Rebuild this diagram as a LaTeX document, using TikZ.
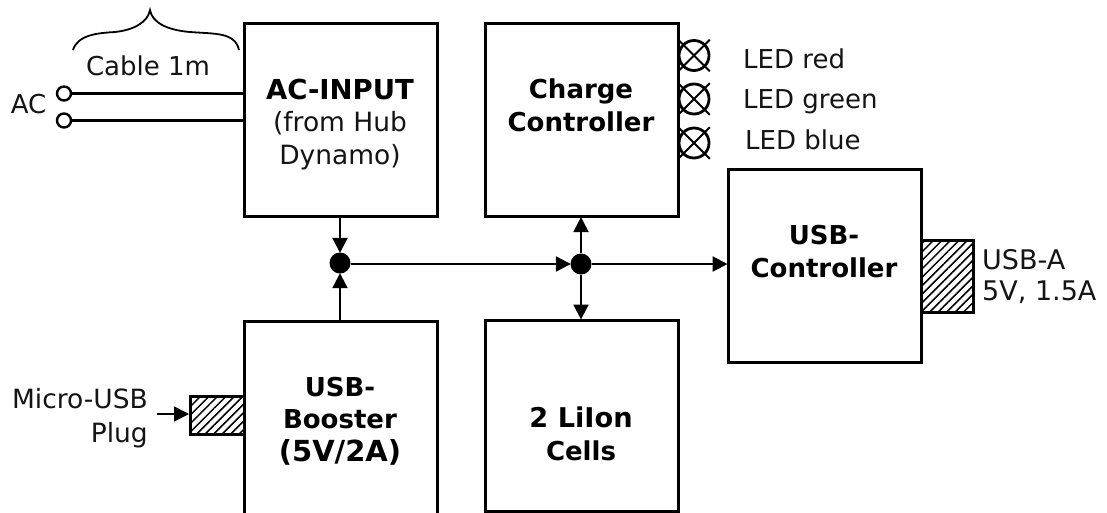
\documentclass[tikz,border=0pt]{standalone}
\usepackage{fontspec}
\setmainfont{DejaVu Sans}
\usetikzlibrary{arrows.meta,patterns.meta}
\tikzset{
  x=1pt,y=-1pt,
  wire/.style={line width=2.2pt},
  flow/.style={wire,-{Triangle[length=15pt,width=15pt]},shorten >=-0.5pt},
  box/.style={draw,line width=2.6pt,minimum width=193pt,minimum height=193pt,inner sep=0pt,anchor=north west},
  plug/.style={draw,line width=2.6pt,inner sep=0pt,anchor=north west,
     pattern={Lines[angle=45,distance=6pt,line width=1.5pt]}},
  dot/.style={circle,fill=black,draw=none,minimum size=21pt,inner sep=0pt},
  term/.style={circle,draw,line width=2.4pt,fill=white,minimum size=14pt,inner sep=0pt},
  lamp/.style={circle,draw,line width=2.8pt,minimum size=30pt,inner sep=0pt},
  cross/.style={line width=2pt,shorten >=-6pt,shorten <=-6pt},
  txt/.style={font=\fontsize{26pt}{33pt}\selectfont,inner sep=0pt,align=center,text=black!92},
  btxt/.style={txt,font=\fontsize{26pt}{32.5pt}\selectfont\bfseries,text=black},
}
\begin{document}
\begin{tikzpicture}
\useasboundingbox (0,0) rectangle (1107,512);
\fill[white] (0,0) rectangle (1107,512);
% blocks
\node[box] (acin) at (243,22) {};
\node[box] (chg) at (484,22) {};
\node[box] (usbc) at (727,168) {};
\node[box] (boost) at (243,320) {};
\node[box,minimum height=191pt] (cells) at (484,319) {};
% plugs
\node[plug,minimum width=52pt,minimum height=72pt] (usba) at (921,240) {};
\node[plug,minimum width=54pt,minimum height=38pt] (micro) at (189,395) {};
% junctions
\node[dot] (j1) at (340,263) {};
\node[dot] (j2) at (581,264) {};
\draw[flow] (j1 |- acin.south) -- (j1.north);
\draw[flow] (j1 |- boost.north) -- (j1.south);
\draw[flow] (j1.east |- j2) -- (j2.west);
\draw[flow] (j2.north) -- (j2 |- chg.south);
\draw[flow] (j2.south) -- (j2 |- cells.north);
\draw[flow] (j2.east) -- (j2 -| usbc.west);
% AC terminals
\node[term] (t1) at (64,93.5) {};
\node[term] (t2) at (64,120.5) {};
\draw[wire] (t1.east) -- (t1 -| acin.west);
\draw[wire] (t2.east) -- (t2 -| acin.west);
% brace
\coordinate (bl) at (73,50);
\coordinate (bt) at (150,10);
\coordinate (br) at (239,50);
\draw[line width=1.8pt] (bl) .. controls (78,34) and (100,33) .. (115,32)
   .. controls (134,30) and (148,22) .. (bt)
   .. controls (152,22) and (166,30) .. (190,32)
   .. controls (215,34) and (235,32) .. (br);
% lamps
\foreach \n/\y in {a/55.5,b/99,c/143}{
  \node[lamp] (l\n) at (694,\y) {};
  \draw[cross] (l\n.north west) -- (l\n.south east);
  \draw[cross] (l\n.north east) -- (l\n.south west);
}
% micro arrow
\node[txt,font=\fontsize{26.5pt}{34pt}\selectfont,align=right,anchor=base east] (mtxt) at (148,442) {Micro-USB\\Plug};
\coordinate (mstart) at (157,414);
\draw[wire,line width=1.6pt,-{Triangle[length=15pt,width=15pt]}] (mstart) -- (mstart -| micro.west);
% labels
\node[txt,anchor=base] (cable) at (148,75) {Cable 1m};
\node[txt,anchor=base] (ac) at (28.5,113) {AC};
\node[txt,anchor=base west] (led1) at (743,68) {LED red};
\node[txt,anchor=base west] (led2) at (743,108) {LED green};
\node[txt,anchor=base west] (led3) at (745,149) {LED blue};
\node[txt,font=\fontsize{27pt}{31pt}\selectfont,anchor=base west,align=left] (usbat) at (982,300) {USB-A\\5V, 1.5A};
\node[btxt,font=\fontsize{27.5pt}{32pt}\selectfont\bfseries,anchor=base] (t1a) at (340,99) {AC-INPUT};
\node[txt,font=\fontsize{26.5pt}{33pt}\selectfont,anchor=base] (t1b) at (340,164) {(from Hub\\Dynamo)};
\node[btxt,anchor=base] (t2a) at (581,131) {Charge\\Controller};
\node[btxt,anchor=base] (t3a) at (824,277) {USB-\\Controller};
\node[btxt,anchor=base] (t4a) at (340,461) {USB-\\Booster\\\fontsize{29pt}{32.5pt}\selectfont (5V/2A)};
\node[btxt,anchor=base] (t5a) at (581,460) {\fontsize{27.2pt}{32.5pt}\selectfont 2 LiIon\\Cells};
\end{tikzpicture}
\end{document}
